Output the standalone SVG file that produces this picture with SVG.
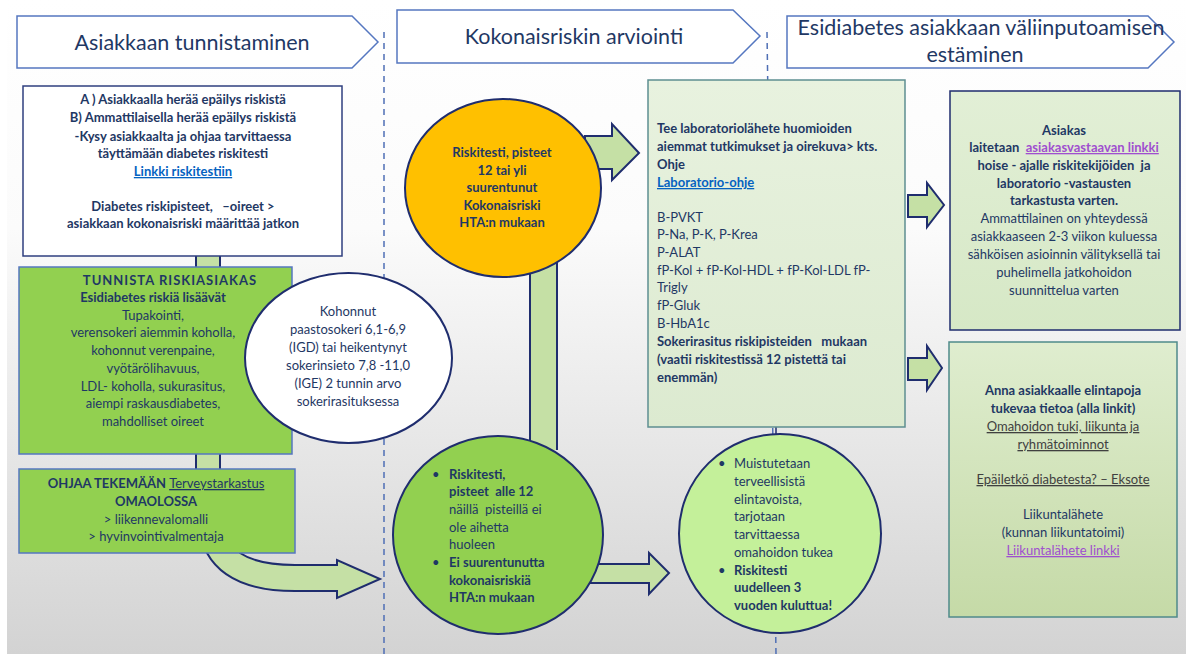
<svg xmlns="http://www.w3.org/2000/svg" width="1186" height="654" viewBox="0 0 1186 654">
<defs>
<linearGradient id="bg" x1="0" y1="0" x2="0" y2="1">
<stop offset="0" stop-color="#ffffff"/>
<stop offset="0.35" stop-color="#fbfbfb"/>
<stop offset="1" stop-color="#d3d3d3"/>
</linearGradient>
<linearGradient id="labg" x1="0" y1="0" x2="0" y2="1">
<stop offset="0" stop-color="#e8f2df"/>
<stop offset="1" stop-color="#dcead0"/>
</linearGradient>
<linearGradient id="r1g" x1="0" y1="0" x2="0" y2="1">
<stop offset="0" stop-color="#e2efd6"/>
<stop offset="1" stop-color="#d6e8c6"/>
</linearGradient>
<linearGradient id="r2g" x1="0" y1="0" x2="0" y2="1">
<stop offset="0" stop-color="#dfedcf"/>
<stop offset="1" stop-color="#c5daa7"/>
</linearGradient>
<style>
.t{font-family:Lato,"Liberation Sans",sans-serif;font-size:13px;fill:#1f3864}
.b{font-weight:bold}
.c{text-anchor:middle}
.u{text-decoration:underline}
.h{font-size:21.5px;font-weight:normal}
.lnk{fill:#0563c1;text-decoration:underline;font-weight:bold}
.pur{fill:#9f4fcf;text-decoration:underline}
.gr{fill:#404040;text-decoration:underline}
.hdr{fill:#ffffff;stroke:#5577c0;stroke-width:1.5}
.arr{fill:#c5e0a5;stroke:#1f2d6e;stroke-width:2}
.bar{fill:#c5e0a5}
.side{stroke:#1f2d6e;stroke-width:2}
.dash{stroke:#4f6fb5;stroke-width:1.5;stroke-dasharray:6 5;fill:none}
.gbox{fill:#92d050;stroke:#5577c0;stroke-width:1.5}
.circ{stroke:#1f2d6e;stroke-width:2}
</style>
</defs>
<rect x="0" y="0" width="1186" height="654" fill="#ffffff"/>
<rect x="7" y="0" width="1179" height="654" fill="url(#bg)"/>

<g id="connectors">
<line class="dash" x1="384" y1="32" x2="384" y2="654"/>
<line class="dash" x1="767" y1="32" x2="776" y2="654"/>
<rect class="bar" x="196" y="250" width="24" height="225"/>
<line class="side" x1="196" y1="250" x2="196" y2="475"/>
<line class="side" x1="220" y1="250" x2="220" y2="475"/>
<path class="arr" d="M205 540 L207 553 Q228 591 295 591 L337 591 L337 598 L380 579 L337 560 L337 565 L295 565 Q258 565 240 553 L240 540 Z"/>
<rect class="bar" x="530" y="250" width="27" height="200"/>
<line class="side" x1="530" y1="250" x2="530" y2="450"/>
<line class="side" x1="557" y1="250" x2="557" y2="450"/>
<path class="arr" d="M585 136 L612 136 L612 124 L639 153 L612 180 L612 169 L585 169 Z"/>
<path class="arr" d="M590 564 L649 564 L649 553 L669 573 L649 594 L649 583 L590 583 Z"/>
<path class="arr" d="M908 195 L927 195 L927 183 L944 205 L927 227 L927 217 L908 217 Z"/>
<path class="arr" d="M908 358 L927 358 L927 346 L942 368 L927 390 L927 380 L908 380 Z"/>
<line x1="776" y1="427" x2="776" y2="435" stroke="#1f2d6e" stroke-width="1.5"/>
</g>

<g id="header1">
<path class="hdr" d="M17 16 L352 16 L378 42 L352 68 L17 68 Z"/>
<text class="t h c" x="192" y="50">Asiakkaan tunnistaminen</text>
</g>
<g id="header2">
<path class="hdr" d="M397 10 L733 10 L760 36 L733 63 L397 63 Z"/>
<text class="t h c" x="574" y="44">Kokonaisriskin arviointi</text>
</g>
<g id="header3">
<path class="hdr" d="M787 16 L1148 16 L1174 42 L1148 68 L787 68 Z"/>
<text class="t h c" x="981" y="35">Esidiabetes asiakkaan väliinputoamisen</text>
<text class="t h c" x="975" y="62">estäminen</text>
</g>

<g id="box-epailys">
<rect x="23" y="86" width="319" height="170" fill="#ffffff" stroke="#2f3f7f" stroke-width="1.5"/>
<text class="t b c" x="183" y="104">A ) Asiakkaalla herää epäilys riskistä</text>
<text class="t b c" x="183" y="122">B) Ammattilaisella herää epäilys riskistä</text>
<text class="t b c" x="183" y="141">-Kysy asiakkaalta ja ohjaa tarvittaessa</text>
<text class="t b c" x="183" y="158">täyttämään diabetes riskitesti</text>
<text class="t c lnk" x="183" y="176">Linkki riskitestiin </text>
<text class="t b c" x="183" y="211" xml:space="preserve">Diabetes riskipisteet,   –oireet &gt;</text>
<text class="t b c" x="183" y="228">asiakkaan kokonaisriski määrittää jatkon</text>
</g>

<g id="box-tunnista">
<rect class="gbox" x="19" y="267" width="273" height="187"/>
<text class="t b c" x="170" y="285" letter-spacing="1">TUNNISTA RISKIASIAKAS</text>
<text class="t b c" x="153" y="302">Esidiabetes riskiä lisäävät</text>
<text class="t c" x="153" y="320">Tupakointi,</text>
<text class="t c" x="153" y="337">verensokeri aiemmin koholla,</text>
<text class="t c" x="153" y="355">kohonnut verenpaine,</text>
<text class="t c" x="153" y="373">vyötärölihavuus,</text>
<text class="t c" x="153" y="391">LDL- koholla, sukurasitus,</text>
<text class="t c" x="153" y="408">aiempi raskausdiabetes,</text>
<text class="t c" x="153" y="426">mahdolliset oireet</text>
</g>

<g id="ellipse-kohonnut">
<ellipse class="circ" cx="348.5" cy="358" rx="103.5" ry="85" fill="#ffffff"/>
<text class="t c" x="348" y="316">Kohonnut</text>
<text class="t c" x="348" y="334">paastosokeri 6,1-6,9</text>
<text class="t c" x="348" y="352">(IGD) tai heikentynyt</text>
<text class="t c" x="348" y="370">sokerinsieto 7,8 -11,0</text>
<text class="t c" x="348" y="388">(IGE) 2 tunnin arvo</text>
<text class="t c" x="348" y="406">sokerirasituksessa</text>
</g>

<g id="box-ohjaa">
<rect class="gbox" x="19" y="469" width="276" height="84"/>
<text class="t b c" x="156" y="488">OHJAA TEKEMÄÄN <tspan font-weight="normal" class="u">Terveystarkastus</tspan></text>
<text class="t b c" x="156" y="506">OMAOLOSSA</text>
<text class="t c" x="156" y="524">&gt; liikennevalomalli</text>
<text class="t c" x="156" y="541">&gt; hyvinvointivalmentaja</text>
</g>

<g id="circle-orange">
<ellipse class="circ" cx="503" cy="188" rx="98" ry="89" fill="#ffc000"/>
<text class="t b c" x="502" y="157">Riskitesti, pisteet</text>
<text class="t b c" x="502" y="175">12 tai yli</text>
<text class="t b c" x="502" y="192">suurentunut</text>
<text class="t b c" x="502" y="210">Kokonaisriski</text>
<text class="t b c" x="502" y="227">HTA:n mukaan</text>
</g>

<g id="circle-green">
<ellipse class="circ" cx="498" cy="535" rx="105" ry="99" fill="#92d050"/>
<text class="t" x="432" y="479">•</text>
<text class="t b" x="449" y="479">Riskitesti,</text>
<text class="t b" x="449" y="496" xml:space="preserve">pisteet  alle 12</text>
<text class="t" x="449" y="514" xml:space="preserve">näillä  pisteillä ei</text>
<text class="t" x="449" y="532">ole aihetta</text>
<text class="t" x="449" y="549">huoleen</text>
<text class="t" x="432" y="567">•</text>
<text class="t b" x="449" y="567">Ei suurentunutta</text>
<text class="t b" x="449" y="585">kokonaisriskiä</text>
<text class="t b" x="449" y="602">HTA:n mukaan</text>
</g>

<g id="box-lab">
<rect x="648" y="80" width="257" height="347" fill="url(#labg)" stroke="#5e8e91" stroke-width="1.5"/>
<text class="t b" x="657" y="133">Tee laboratoriolähete huomioiden</text>
<text class="t b" x="657" y="151">aiemmat tutkimukset ja oirekuva&gt; kts.</text>
<text class="t b" x="657" y="169">Ohje</text>
<text class="t lnk" x="657" y="187">Laboratorio-ohje</text>
<text class="t" x="657" y="222">B-PVKT</text>
<text class="t" x="657" y="239">P-Na, P-K, P-Krea</text>
<text class="t" x="657" y="257">P-ALAT</text>
<text class="t" x="657" y="275">fP-Kol + fP-Kol-HDL + fP-Kol-LDL fP-</text>
<text class="t" x="657" y="292">Trigly</text>
<text class="t" x="657" y="310">fP-Gluk</text>
<text class="t" x="657" y="328">B-HbA1c</text>
<text class="t b" x="657" y="346" xml:space="preserve">Sokerirasitus riskipisteiden   mukaan</text>
<text class="t b" x="657" y="364">(vaatii riskitestissä 12 pistettä tai</text>
<text class="t b" x="657" y="382">enemmän)</text>
</g>

<g id="circle-light">
<ellipse class="circ" cx="780" cy="533.5" rx="101" ry="99.5" fill="#c4f09a"/>
<text class="t" x="718" y="468">•</text>
<text class="t" x="734" y="468">Muistutetaan</text>
<text class="t" x="734" y="486">terveellisistä</text>
<text class="t" x="734" y="504">elintavoista,</text>
<text class="t" x="734" y="521">tarjotaan</text>
<text class="t" x="734" y="539">tarvittaessa</text>
<text class="t" x="734" y="557">omahoidon tukea</text>
<text class="t" x="718" y="575">•</text>
<text class="t b" x="734" y="575">Riskitesti</text>
<text class="t b" x="734" y="592">uudelleen 3</text>
<text class="t b" x="734" y="610">vuoden kuluttua!</text>
</g>

<g id="box-asiakas">
<rect x="950" y="91" width="230" height="239" fill="url(#r1g)" stroke="#1f2d6e" stroke-width="1.5"/>
<text class="t b c" x="1064" y="135">Asiakas</text>
<text class="t b c" x="1064" y="152" xml:space="preserve">laitetaan  <tspan class="pur">asiakasvastaavan linkki</tspan></text>
<text class="t b c" x="1064" y="170" xml:space="preserve">hoise - ajalle riskitekijöiden  ja</text>
<text class="t b c" x="1064" y="188">laboratorio -vastausten</text>
<text class="t b c" x="1064" y="205">tarkastusta varten.</text>
<text class="t c" x="1064" y="223">Ammattilainen on yhteydessä</text>
<text class="t c" x="1064" y="241">asiakkaaseen 2-3 viikon kuluessa</text>
<text class="t c" x="1064" y="259">sähköisen asioinnin välityksellä tai</text>
<text class="t c" x="1064" y="277">puhelimella jatkohoidon</text>
<text class="t c" x="1064" y="295">suunnittelua varten</text>
</g>

<g id="box-elintavat">
<rect x="949" y="342" width="228" height="275" fill="url(#r2g)" stroke="#4f8a8b" stroke-width="1.5"/>
<text class="t b c" x="1063" y="395">Anna asiakkaalle elintapoja</text>
<text class="t b c" x="1063" y="413">tukevaa tietoa (alla linkit)</text>
<text class="t c gr" x="1063" y="431">Omahoidon tuki, liikunta ja </text>
<text class="t c gr" x="1063" y="449">ryhmätoiminnot</text>
<text class="t c gr" x="1063" y="484">Epäiletkö diabetesta? – Eksote</text>
<text class="t c" x="1063" y="519">Liikuntalähete</text>
<text class="t c" x="1063" y="537">(kunnan liikuntatoimi)</text>
<text class="t c pur" x="1063" y="555">Liikuntalähete linkki </text>
</g>
</svg>
